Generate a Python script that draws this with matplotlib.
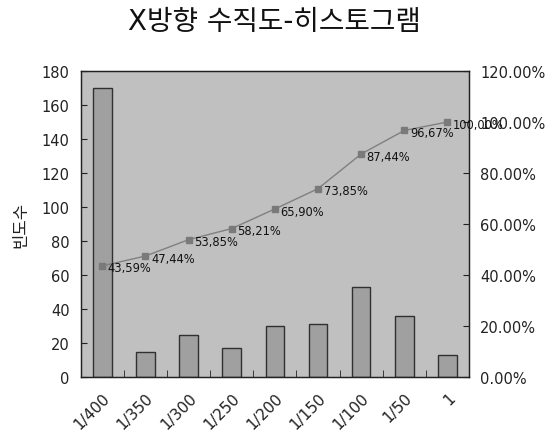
import numpy as np
import matplotlib
matplotlib.use("Agg")
import matplotlib.pyplot as plt
from matplotlib.ticker import FixedLocator

plt.rcParams['font.family'] = ['DejaVu Sans', 'Noto Sans CJK KR']

categories = ["1/400", "1/350", "1/300", "1/250", "1/200", "1/150", "1/100", "1/50", "1"]
counts = [170, 15, 25, 17, 30, 31, 53, 36, 13]
cumulative_pct = [43.59, 47.44, 53.85, 58.21, 65.90, 73.85, 87.44, 96.67, 100.00]
left_ticks = [0, 20, 40, 60, 80, 100, 120, 140, 160, 180]
right_ticks = [0, 20, 40, 60, 80, 100, 120]

fig = plt.figure(figsize=(5.46, 4.35), dpi=100)
ax = fig.add_axes([80.7 / 546, 1 - 378 / 435, (469 - 80.7) / 546, (378 - 72) / 435])
ax.set_facecolor('#c0c0c0')

x = np.arange(len(categories))
ax.bar(x, counts, width=0.43, color='#a0a0a0', edgecolor='#303030', linewidth=1.0, zorder=2)
ax.set_xlim(-0.5, len(categories) - 0.5)
ax.set_ylim(0, 180)
ax.set_yticks(left_ticks)
ax.tick_params(axis='y', direction='in', length=4, labelsize=10.5, pad=8, colors='#222222')
ax.set_xticks(x)
ax.set_xticklabels(categories, rotation=45, ha='right', va='top', rotation_mode='anchor',
                   fontsize=11, color='#222222')
ax.tick_params(axis='x', which='major', length=0, pad=9)
ax.xaxis.set_minor_locator(FixedLocator(np.arange(0.5, len(categories) - 1, 1.0)))
ax.tick_params(axis='x', which='minor', direction='in', length=5, color='#222222')
for s in ax.spines.values():
    s.set_color('#222222')
    s.set_linewidth(1.0)
ax.set_ylabel('빈도수', fontsize=12, labelpad=9, color='#222222')

ax2 = ax.twinx()
ax2.set_ylim(0, 120)
ax2.set_yticks(right_ticks)
ax2.set_yticklabels([f"{t:.2f}%" for t in right_ticks])
ax2.tick_params(axis='y', direction='in', length=4, labelsize=10.5, pad=8, colors='#222222')
ax2.plot(x, cumulative_pct, color='#808080', linewidth=1.0, marker='s', markersize=4.5,
         markerfacecolor='#7a7a7a', markeredgecolor='#7a7a7a', zorder=3)
for xi, v in zip(x, cumulative_pct):
    ax2.annotate(f"{v:.2f}%".replace('.', ','), (xi, v), xytext=(4, -1.5),
                 textcoords='offset points', va='center', ha='left', fontsize=8.3,
                 color='#111111')
for s in ax2.spines.values():
    s.set_color('#222222')

fig.text(0.503, 1 - 22 / 435, 'X방향 수직도-히스토그램', ha='center', va='center',
         fontsize=20, color='#111111')

fig.savefig('out.png', dpi=100)
